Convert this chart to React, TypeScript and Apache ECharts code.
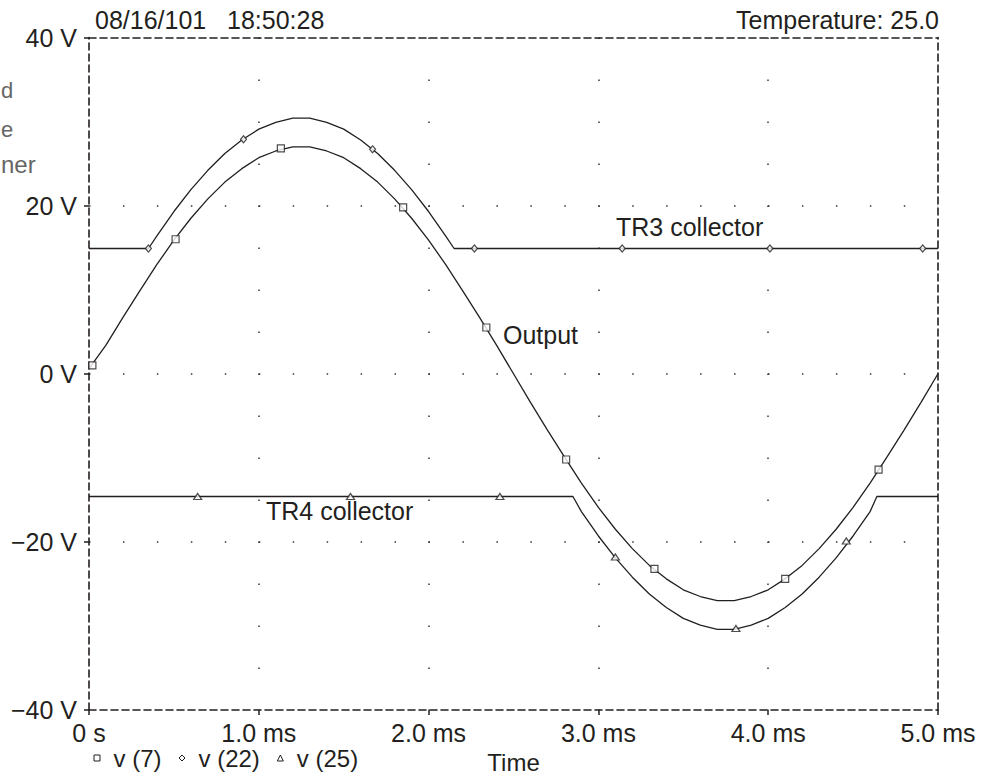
import React, { useEffect, useRef } from "react";
import * as echarts from "echarts";

// ---- Data ----
const timeMs = [
  0, 0.1, 0.2, 0.3, 0.4, 0.5, 0.6, 0.7, 0.8, 0.9,
  1.0, 1.1, 1.2, 1.3, 1.4, 1.5, 1.6, 1.7, 1.8, 1.9,
  2.0, 2.1, 2.2, 2.3, 2.4, 2.5, 2.6, 2.7, 2.8, 2.9,
  3.0, 3.1, 3.2, 3.3, 3.4, 3.5, 3.6, 3.7, 3.8, 3.9,
  4.0, 4.1, 4.2, 4.3, 4.4, 4.5, 4.6, 4.7, 4.8, 4.9, 5.0,
];

// v(7) – Output
const outputV = [
  0.6, 3.4, 6.7, 9.9, 13.0, 15.9, 18.5, 20.8, 22.8, 24.4,
  25.7, 26.5, 27.0, 27.0, 26.5, 25.7, 24.4, 22.8, 20.8, 18.5,
  15.9, 13.0, 9.9, 6.7, 3.4, 0.0, -3.4, -6.7, -9.9, -13.0,
  -15.9, -18.5, -20.8, -22.8, -24.4, -25.7, -26.5, -27.0, -27.0, -26.5,
  -25.7, -24.4, -22.8, -20.8, -18.5, -15.9, -13.0, -9.9, -6.7, -3.4, 0.0,
];

// v(22) – TR3 collector [ms, V]
const tr3Points: [number, number][] = [
  [0, 14.9], [0.35, 14.9], [0.4, 16.4], [0.5, 19.3], [0.6, 21.9], [0.7, 24.2],
  [0.8, 26.2], [0.9, 27.8], [1.0, 29.1], [1.1, 29.9], [1.2, 30.4], [1.3, 30.4],
  [1.4, 29.9], [1.5, 29.1], [1.6, 27.8], [1.7, 26.2], [1.8, 24.2], [1.9, 21.9],
  [2.0, 19.3], [2.1, 16.4], [2.15, 14.9], [5.0, 14.9],
];

// v(25) – TR4 collector [ms, V]
const tr4Points: [number, number][] = [
  [0, -14.6], [2.85, -14.6], [2.9, -16.4], [3.0, -19.3], [3.1, -21.9], [3.2, -24.2],
  [3.3, -26.2], [3.4, -27.8], [3.5, -29.1], [3.6, -29.9], [3.7, -30.4], [3.8, -30.4],
  [3.9, -29.9], [4.0, -29.1], [4.1, -27.8], [4.2, -26.2], [4.3, -24.2], [4.4, -21.9],
  [4.5, -19.3], [4.6, -16.4], [4.64, -14.6], [5.0, -14.6],
];

// marker positions [ms, V]
const outputMarkers: [number, number][] = [
  [0.02, 1.0], [0.51, 16.0], [1.13, 26.8], [1.85, 19.8], [2.34, 5.5],
  [2.81, -10.2], [3.33, -23.2], [4.10, -24.4], [4.65, -11.4],
];
const tr3Markers: [number, number][] = [
  [0.35, 14.9], [0.91, 27.9], [1.67, 26.7], [2.27, 14.9], [3.14, 14.9], [4.01, 14.9], [4.91, 14.9],
];
const tr4Markers: [number, number][] = [
  [0.64, -14.6], [1.54, -14.6], [2.42, -14.6], [3.10, -21.8], [3.81, -30.3], [4.46, -19.9],
];

const xTickValues = [0, 1, 2, 3, 4, 5];
const xTickLabels = ["0 s", "1.0 ms", "2.0 ms", "3.0 ms", "4.0 ms", "5.0 ms"];
const yTickValues = [-40, -20, 0, 20, 40];
const yTickLabels = ["\u221240 V", "\u221220 V", "0 V", "20 V", "40 V"];

const seriesNames = ["v (7)", "v (22)", "v (25)"];

const INK = "#231f20";
const FONT = "'Liberation Sans', Arial, Helvetica, sans-serif";

export default function App() {
  const ref = useRef<HTMLDivElement>(null);

  useEffect(() => {
    if (!ref.current) return;
    const chart = echarts.init(ref.current, null, { renderer: "svg" });

    const outputData = timeMs.map((t, i) => [t, outputV[i]]);
    const lineStyle = { color: INK, width: 1.3 };
    const markerStyle = { color: "#ffffff", borderColor: INK, borderWidth: 1.2 };

    const labelFor = (vals: number[], labels: string[]) => (v: number) => {
      const i = vals.findIndex((x) => Math.abs(x - v) < 1e-6);
      return i >= 0 ? labels[i] : "";
    };

    const dashed = { color: INK, width: 1.6, type: [7, 4] as number[] };

    chart.setOption({
      animation: false,
      backgroundColor: "#ffffff",
      textStyle: { fontFamily: FONT },
      title: [
        {
          text: "08/16/101   18:50:28",
          left: 95,
          top: 7,
          padding: 0,
          textStyle: { fontSize: 25, fontWeight: "normal", color: INK, fontFamily: FONT },
        },
        {
          text: "Temperature: 25.0",
          right: 48,
          top: 7,
          padding: 0,
          textStyle: { fontSize: 25, fontWeight: "normal", color: INK, fontFamily: FONT },
        },
      ],
      legend: {
        left: 93.5,
        top: 746,
        padding: 0,
        itemWidth: 6,
        itemHeight: 6,
        itemGap: 17,
        selectedMode: false,
        formatter: (name: string) => `{s|}${name}`,
        textStyle: {
          fontSize: 24,
          lineHeight: 20,
          color: INK,
          fontFamily: FONT,
          rich: { s: { width: 8.5, lineHeight: 20 } },
        },
        itemStyle: { color: "#ffffff", borderColor: INK, borderWidth: 1 },
        data: [
          { name: seriesNames[0], icon: "rect" },
          { name: seriesNames[1], icon: "diamond" },
          { name: seriesNames[2], icon: "triangle" },
        ],
      },
      grid: { left: 89, right: 49, top: 37.5, bottom: 70 },
      xAxis: [
        {
          type: "value",
          min: 0,
          max: 5,
          interval: 1,
          position: "bottom",
          name: "Time",
          nameLocation: "middle",
          nameGap: 40,
          nameTextStyle: { fontSize: 24, color: INK, fontFamily: FONT },
          axisLine: { show: true, onZero: false, lineStyle: dashed },
          axisTick: { show: true, inside: false, length: 5, lineStyle: { color: INK, width: 1.5 } },
          axisLabel: {
            margin: 12.5,
            fontSize: 25,
            lineHeight: 20,
            color: INK,
            fontFamily: FONT,
            formatter: labelFor(xTickValues, xTickLabels),
          },
          splitLine: {
            show: true,
            showMinLine: false,
            showMaxLine: false,
            lineStyle: { color: "#333", width: 1.5, type: [1.5, 40.5] },
          },
        },
        {
          type: "value",
          min: 0,
          max: 5,
          interval: 1,
          position: "top",
          axisLine: { show: true, onZero: false, lineStyle: dashed },
          axisTick: { show: false },
          axisLabel: { show: false },
          splitLine: { show: false },
        },
      ],
      yAxis: [
        {
          type: "value",
          min: -40,
          max: 40,
          interval: 20,
          position: "left",
          axisLine: { show: true, onZero: false, lineStyle: dashed },
          axisTick: { show: true, inside: false, length: 5, lineStyle: { color: INK, width: 1.5 } },
          axisLabel: {
            margin: 12,
            fontSize: 25,
            color: INK,
            fontFamily: FONT,
            formatter: labelFor(yTickValues, yTickLabels),
          },
          splitLine: {
            show: true,
            showMinLine: false,
            showMaxLine: false,
            lineStyle: { color: "#333", width: 1.5, type: [1.5, 32.45] },
          },
        },
        {
          type: "value",
          min: -40,
          max: 40,
          interval: 20,
          position: "right",
          axisLine: { show: true, onZero: false, lineStyle: dashed },
          axisTick: { show: false },
          axisLabel: { show: false },
          splitLine: { show: false },
        },
      ],
      series: [
        { name: seriesNames[0], type: "line", data: outputData, symbol: "none", lineStyle, itemStyle: { color: INK }, silent: true, z: 2 },
        { name: seriesNames[1], type: "line", data: tr3Points, symbol: "none", lineStyle, itemStyle: { color: INK }, silent: true, z: 2 },
        { name: seriesNames[2], type: "line", data: tr4Points, symbol: "none", lineStyle, itemStyle: { color: INK }, silent: true, z: 2 },
        { name: seriesNames[0], type: "scatter", data: outputMarkers, symbol: "rect", symbolSize: 7, itemStyle: markerStyle, silent: true, z: 3 },
        { name: seriesNames[1], type: "scatter", data: tr3Markers, symbol: "diamond", symbolSize: [6, 7], itemStyle: markerStyle, silent: true, z: 3 },
        { name: seriesNames[2], type: "scatter", data: tr4Markers, symbol: "triangle", symbolSize: [8, 6], itemStyle: markerStyle, silent: true, z: 3 },
      ],
      graphic: [
        { type: "text", left: 616, top: 228 - 14, style: { text: "TR3 collector", fontSize: 25, fill: INK, fontFamily: FONT } },
        { type: "text", left: 503, top: 336 - 14, style: { text: "Output", fontSize: 25, fill: INK, fontFamily: FONT } },
        { type: "text", left: 266, top: 512 - 14, style: { text: "TR4 collector", fontSize: 25, fill: INK, fontFamily: FONT } },
        { type: "text", x: 1, y: 90, style: { text: "d", fontSize: 22, fill: "#666", fontFamily: FONT, align: "left", verticalAlign: "middle" } },
        { type: "text", x: 1, y: 129, style: { text: "e", fontSize: 22, fill: "#666", fontFamily: FONT, align: "left", verticalAlign: "middle" } },
        { type: "text", x: 1, y: 164, style: { text: "ner", fontSize: 24, fill: "#666", fontFamily: FONT, align: "left", verticalAlign: "middle" } },
      ],
    });

    return () => chart.dispose();
  }, []);

  return (
    <div
      ref={ref}
      style={{ position: "fixed", left: 0, top: 0, width: 987, height: 780, background: "#fff" }}
    />
  );
}
